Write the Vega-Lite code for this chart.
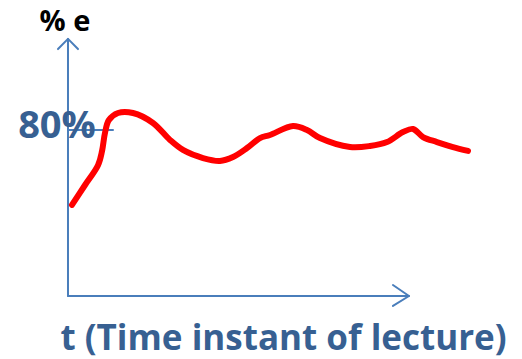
{
  "$schema": "https://vega.github.io/schema/vega-lite/v6.json",
  "width": 522,
  "height": 359,
  "autosize": {"type": "none"},
  "padding": 0,
  "background": "white",
  "config": {"view": {"stroke": null}},
  "datasets": {
    "curve": [
      {"t": 1.17, "e": 43.9}, {"t": 5.0, "e": 53.5}, {"t": 8.8, "e": 63.0}, {"t": 10.0, "e": 70.0}, {"t": 10.85, "e": 78.6}, {"t": 12.0, "e": 84.8},
      {"t": 14.66, "e": 88.2}, {"t": 19.06, "e": 88.2}, {"t": 24.93, "e": 83.4}, {"t": 29.91, "e": 75.2},
      {"t": 33.72, "e": 70.4}, {"t": 39.59, "e": 66.5}, {"t": 44.57, "e": 65.1}, {"t": 48.39, "e": 67.0},
      {"t": 52.49, "e": 71.3}, {"t": 56.30, "e": 76.1}, {"t": 59.24, "e": 77.6}, {"t": 65.98, "e": 81.9},
      {"t": 70.09, "e": 80.0}, {"t": 73.90, "e": 76.1}, {"t": 82.70, "e": 71.8}, {"t": 88.56, "e": 72.3},
      {"t": 93.55, "e": 74.2}, {"t": 98.24, "e": 79.0}, {"t": 101.17, "e": 80.5}, {"t": 104.11, "e": 76.6},
      {"t": 108.21, "e": 74.2}, {"t": 112.90, "e": 71.8}, {"t": 117.30, "e": 69.9}
    ],
    "axes": [
      {"part": "yaxis", "i": 0, "t": 0, "e": 0}, {"part": "yaxis", "i": 1, "t": 0, "e": 123.9},
      {"part": "xaxis", "i": 0, "t": 0, "e": 0}, {"part": "xaxis", "i": 1, "t": 100, "e": 0},
      {"part": "yarrow", "i": 0, "t": -2.93, "e": 119.0}, {"part": "yarrow", "i": 1, "t": 0, "e": 123.9}, {"part": "yarrow", "i": 2, "t": 2.93, "e": 119.0},
      {"part": "xarrow", "i": 0, "t": 95.3, "e": 5.3}, {"part": "xarrow", "i": 1, "t": 100, "e": 0}, {"part": "xarrow", "i": 2, "t": 95.3, "e": -4.8},
      {"part": "tick80", "i": 0, "t": 0, "e": 80}, {"part": "tick80", "i": 1, "t": 13.2, "e": 80}
    ],
    "ylabel": [{"label": "% e", "t": -0.88, "e": 127.5}],
    "mark80": [{"label": "80%", "t": -3.23, "e": 81.4}],
    "xlabel": [{"label": "t (Time instant of lecture)", "t": 63.2, "e": -26.0}]
  },
  "encoding": {
    "x": {"field": "t", "type": "quantitative", "scale": {"domain": [-19.94, 133.14], "nice": false, "zero": false}, "axis": null},
    "y": {"field": "e", "type": "quantitative", "scale": {"domain": [-30.36, 142.65], "nice": false, "zero": false}, "axis": null}
  },
  "layer": [
    {
      "data": {"name": "axes"},
      "mark": {"type": "line", "color": "#4A7EBB", "strokeWidth": 2, "strokeCap": "round", "strokeJoin": "round"},
      "encoding": {"detail": {"field": "part"}, "order": {"field": "i", "type": "quantitative"}}
    },
    {
      "data": {"name": "mark80"},
      "mark": {"type": "text", "font": "Open Sans", "fontWeight": "bold", "fontSize": 38, "color": "#376092", "align": "center", "baseline": "middle"},
      "encoding": {"text": {"field": "label"}}
    },
    {
      "data": {"name": "curve"},
      "mark": {"type": "line", "color": "#FF0000", "strokeWidth": 6, "strokeCap": "round", "strokeJoin": "round", "interpolate": "catmull-rom"},
      "encoding": {"order": {"field": "t", "type": "quantitative"}}
    },
    {
      "data": {"name": "ylabel"},
      "mark": {"type": "text", "font": "Open Sans", "fontWeight": "bold", "fontSize": 29, "color": "#000000", "align": "center", "baseline": "alphabetic"},
      "encoding": {"text": {"field": "label"}}
    },
    {
      "data": {"name": "xlabel"},
      "mark": {"type": "text", "font": "Open Sans", "fontWeight": "bold", "fontSize": 35, "color": "#376092", "align": "center", "baseline": "alphabetic"},
      "encoding": {"text": {"field": "label"}}
    }
  ]
}
